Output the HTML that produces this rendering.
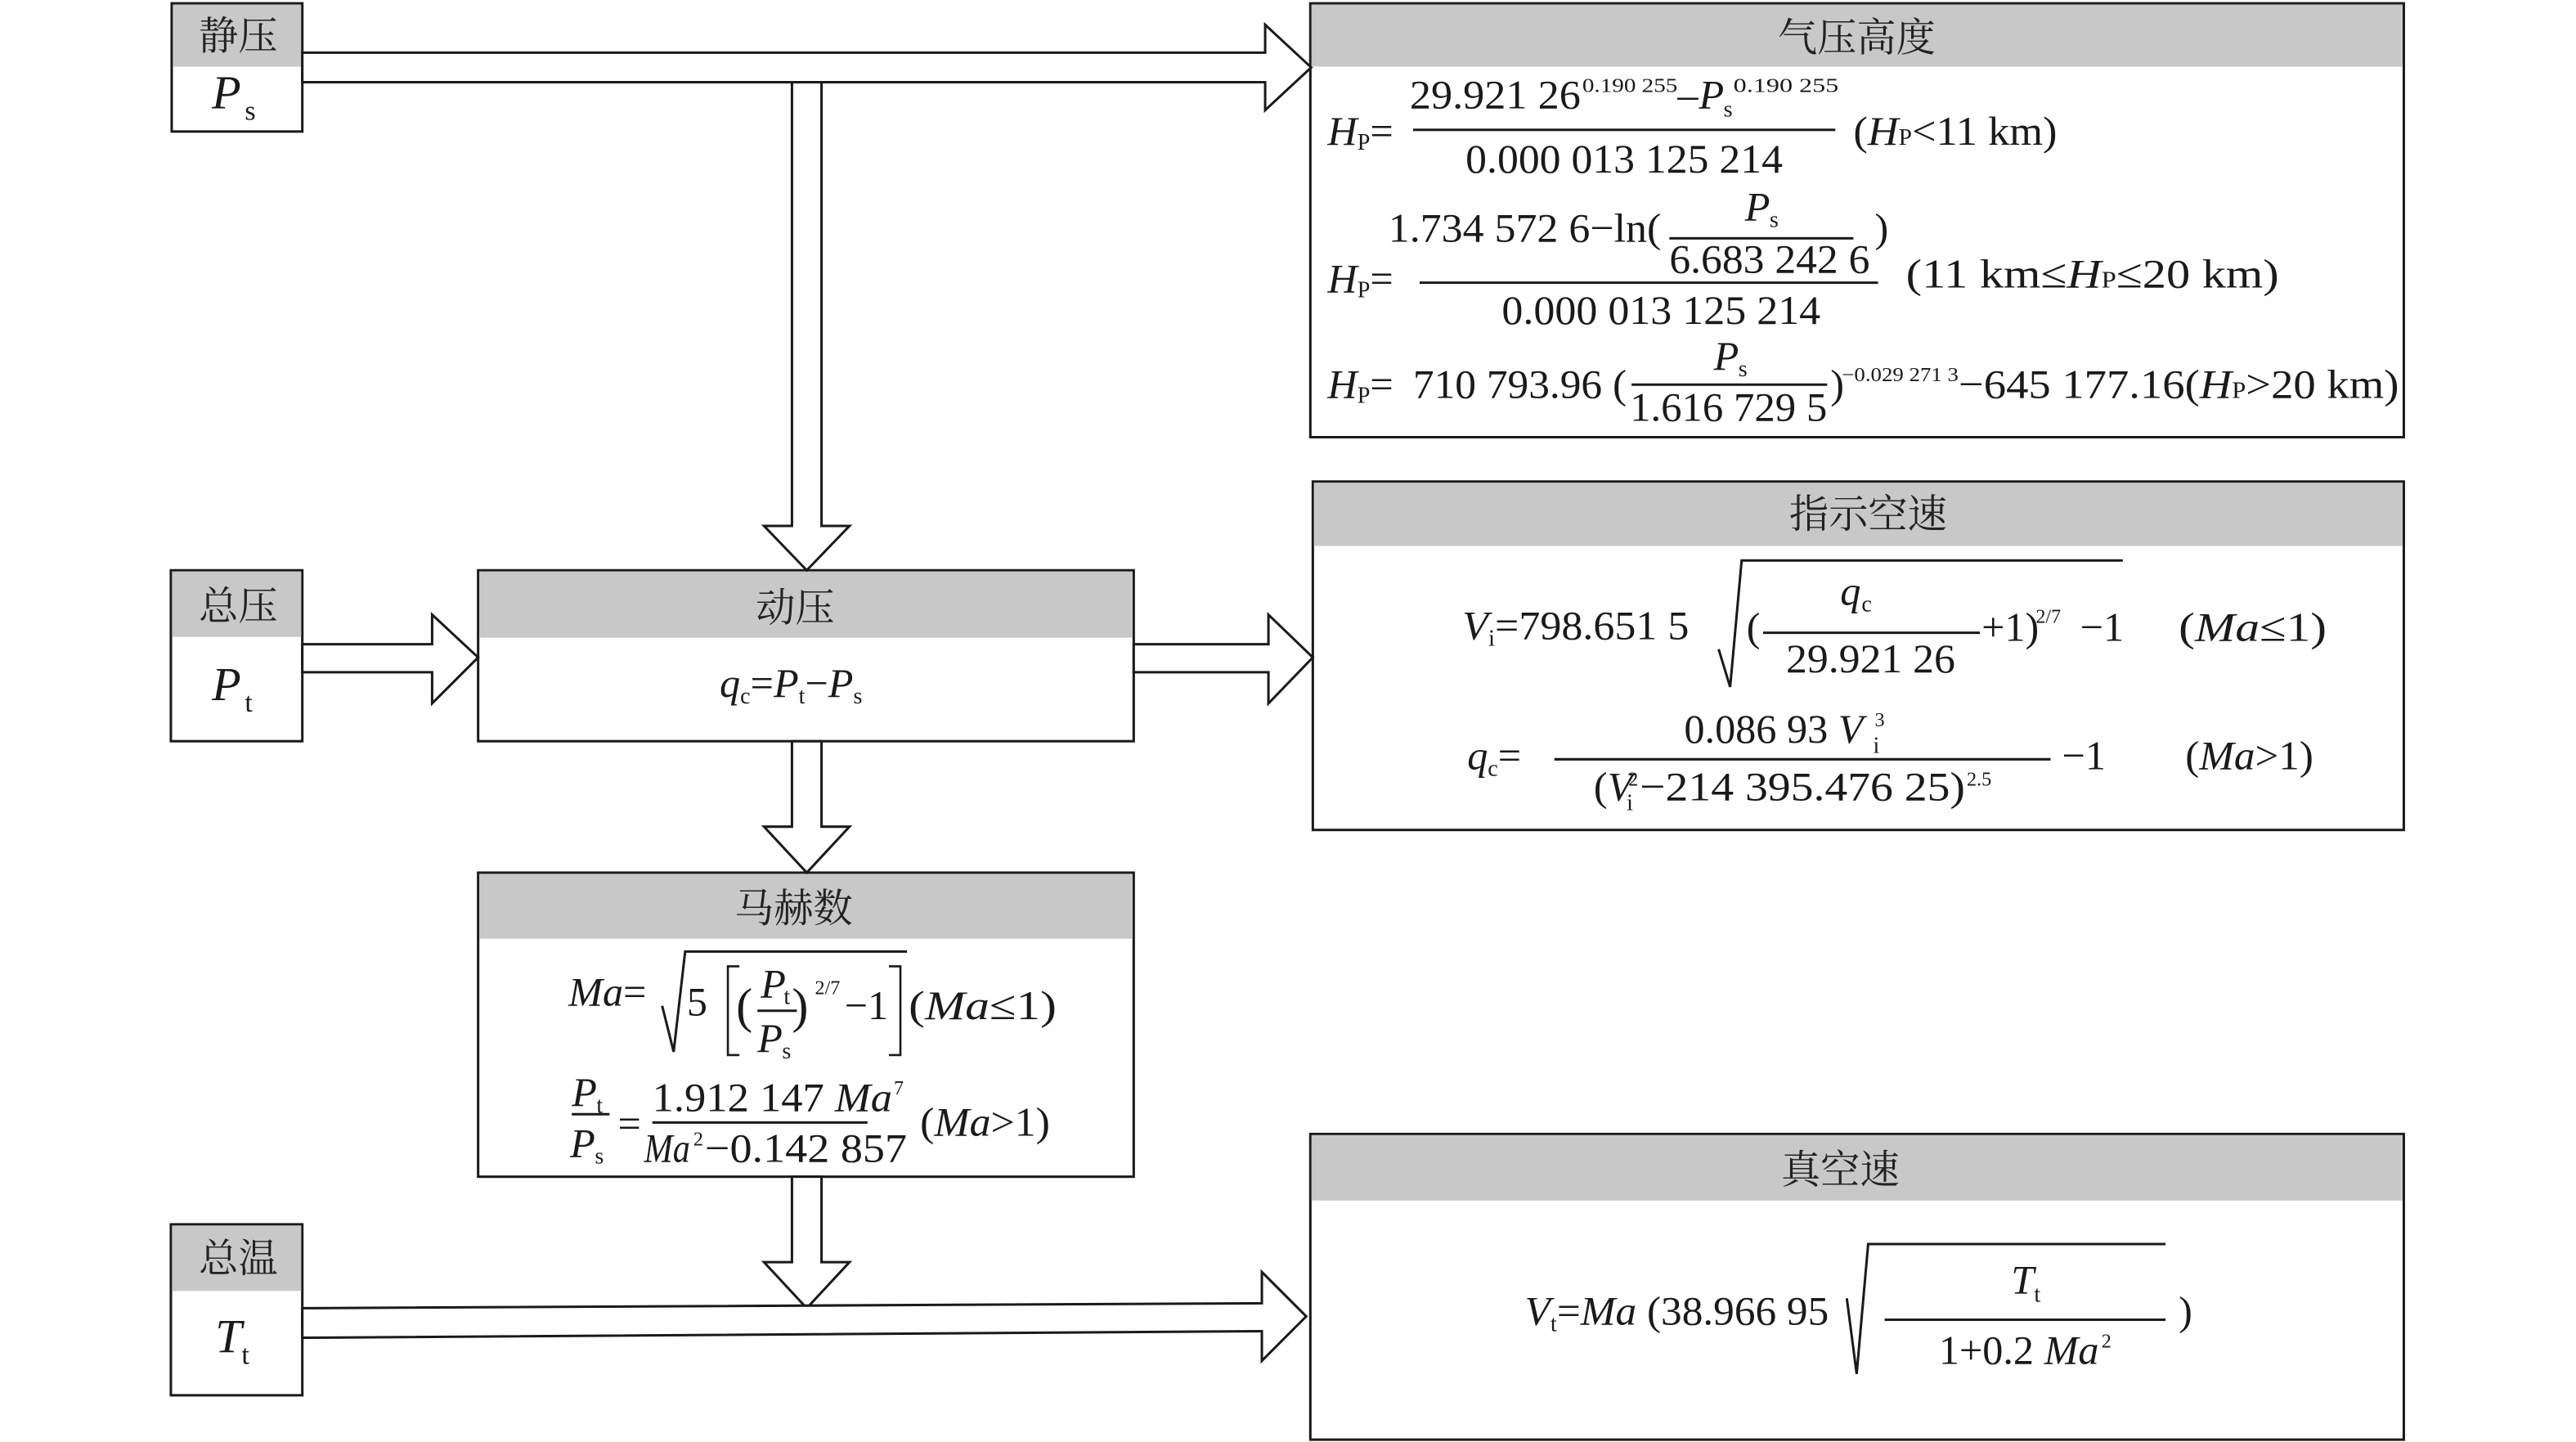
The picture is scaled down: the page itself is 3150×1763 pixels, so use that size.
<!DOCTYPE html>
<html><head><meta charset="utf-8"><style>
html,body{margin:0;padding:0;background:#fff;}
svg{display:block;}
text{font-family:"Liberation Serif","Noto Serif CJK SC",serif;fill:#1a1a1a;}
.h{font-family:"Liberation Serif","Noto Serif CJK SC","Noto Sans CJK SC",serif;font-size:24px;fill:#222;}
.m{font-size:25px;}
.i{font-style:italic;}
.s{font-size:14px;}
.ss{font-size:12px;}
</style></head><body>
<svg width="3150" height="1763" viewBox="0 0 1567.8 877.4" xmlns="http://www.w3.org/2000/svg">
<g stroke="#1a1a1a" stroke-width="1.5">
<rect x="104.5" y="2" width="79.5" height="78" fill="#fff"/>
<rect x="105.2" y="2.7" width="78" height="37.8" fill="#c8c8c8" stroke="none"/>
<rect x="104" y="347" width="80" height="104" fill="#fff"/>
<rect x="104.7" y="347.7" width="78.6" height="39.8" fill="#c8c8c8" stroke="none"/>
<rect x="104" y="745" width="80" height="104" fill="#fff"/>
<rect x="104.7" y="745.7" width="78.6" height="39.8" fill="#c8c8c8" stroke="none"/>
<rect x="291" y="347" width="399" height="104" fill="#fff"/>
<rect x="291.7" y="347.7" width="397.6" height="40.3" fill="#c8c8c8" stroke="none"/>
<rect x="291" y="531" width="399" height="185" fill="#fff"/>
<rect x="291.7" y="531.7" width="397.6" height="39.5" fill="#c8c8c8" stroke="none"/>
<rect x="797.5" y="2" width="665.5" height="264" fill="#fff"/>
<rect x="798.2" y="2.7" width="664" height="37.8" fill="#c8c8c8" stroke="none"/>
<rect x="799" y="293" width="664" height="212" fill="#fff"/>
<rect x="799.7" y="293.7" width="662.6" height="38.5" fill="#c8c8c8" stroke="none"/>
<rect x="797.5" y="690" width="665.5" height="186" fill="#fff"/>
<rect x="798.2" y="690.7" width="664" height="39.8" fill="#c8c8c8" stroke="none"/>
<polygon fill="#fff" points="184,32 770,32 770,15 798,41 770,67 770,50 184,50"/>
<polygon fill="#fff" points="482,50 500,50 500,320 517,320 491,347 465,320 482,320"/>
<polygon fill="#fff" points="184,392 263,392 263,374 291,400 263,428 263,409 184,409"/>
<polygon fill="#fff" points="690,392 772,392 772,374 799,400 772,428 772,409 690,409"/>
<polygon fill="#fff" points="482,451 500,451 500,503 517,503 491,531 465,503 482,503"/>
<polygon fill="#fff" points="482,716 500,716 500,768 517,768 491,796 465,768 482,768"/>
<polygon fill="#fff" points="184,796 768,793 768,774 795,801 768,828 768,810 184,814"/>
<line x1="860" y1="79" x2="1117" y2="79"/>
<line x1="1016" y1="145" x2="1128" y2="145"/>
<line x1="864" y1="172" x2="1143" y2="172"/>
<line x1="993" y1="234" x2="1112" y2="234"/>
<polyline fill="none" points="1046,395 1053,418 1060,341 1292,341"/>
<line x1="1073" y1="385" x2="1205" y2="385"/>
<line x1="946" y1="462" x2="1248" y2="462"/>
<polyline fill="none" points="403,612 410,640 417,579 552,579"/>
<polyline fill="none" stroke-width="1.3" points="450,588 443,588 443,642 450,642"/>
<polyline fill="none" stroke-width="1.3" points="541,588 548,588 548,642 541,642"/>
<line x1="461" y1="615" x2="485" y2="615"/>
<line x1="348" y1="678" x2="371" y2="678"/>
<line x1="397" y1="683" x2="528" y2="683"/>
<polyline fill="none" points="1124,790 1130,836 1137,757 1318,757"/>
<line x1="1147" y1="803" x2="1318" y2="803"/>
</g>
<text class="h" x="145" y="30" text-anchor="middle">静压</text>
<text class="h" x="145" y="377" text-anchor="middle">总压</text>
<text class="h" x="145" y="774" text-anchor="middle">总温</text>
<text class="h" x="484" y="378" text-anchor="middle">动压</text>
<text class="h" x="483" y="561" text-anchor="middle">马赫数</text>
<text class="h" x="1130" y="31" text-anchor="middle">气压高度</text>
<text class="h" x="1137" y="321" text-anchor="middle">指示空速</text>
<text class="h" x="1120" y="720" text-anchor="middle">真空速</text>
<text class="i" x="129" y="66" font-size="29">P</text><text x="149" y="73" font-size="17">s</text>
<text class="i" x="129" y="426" font-size="29">P</text><text x="149" y="433" font-size="17">t</text>
<text class="i" x="131" y="823" font-size="29">T</text><text x="147" y="830" font-size="17">t</text>
<text class="m" x="438" y="424"><tspan class="i">q</tspan><tspan class="s" dy="4">c</tspan><tspan dy="-4">=</tspan><tspan class="i">P</tspan><tspan class="s" dy="4">t</tspan><tspan dy="-4">−</tspan><tspan class="i">P</tspan><tspan class="s" dy="4">s</tspan></text>
<text class="m" x="808" y="88"><tspan class="i">H</tspan><tspan class="s" dy="3">P</tspan><tspan dy="-3">=</tspan></text>
<text class="m" x="858" y="66" textLength="104" lengthAdjust="spacingAndGlyphs">29.921 26</text>
<text class="ss" x="963" y="56" textLength="58" lengthAdjust="spacingAndGlyphs">0.190 255</text>
<text class="m" x="1021" y="66">–</text><text class="m i" x="1034" y="66">P</text><text class="s" x="1049" y="71">s</text>
<text class="ss" x="1055" y="56" textLength="64" lengthAdjust="spacingAndGlyphs">0.190 255</text>
<text class="m" x="892" y="105" textLength="193" lengthAdjust="spacingAndGlyphs">0.000 013 125 214</text>
<text class="m" x="1128" y="88" textLength="124" lengthAdjust="spacingAndGlyphs">(<tspan class="i">H</tspan><tspan class="s">P</tspan>&lt;11 km)</text>
<text class="m" x="845" y="147" textLength="166" lengthAdjust="spacingAndGlyphs">1.734 572 6−ln(</text>
<text class="m i" x="1062" y="134">P</text><text class="s" x="1077" y="138">s</text>
<text class="m" x="1016" y="166" textLength="122" lengthAdjust="spacingAndGlyphs">6.683 242 6</text>
<text class="m" x="1141" y="147">)</text>
<text class="m" x="808" y="178"><tspan class="i">H</tspan><tspan class="s" dy="3">P</tspan><tspan dy="-3">=</tspan></text>
<text class="m" x="914" y="197" textLength="194" lengthAdjust="spacingAndGlyphs">0.000 013 125 214</text>
<text class="m" x="1160" y="175" textLength="227" lengthAdjust="spacingAndGlyphs">(11 km≤<tspan class="i">H</tspan><tspan class="s">P</tspan>≤20 km)</text>
<text class="m" x="808" y="242"><tspan class="i">H</tspan><tspan class="s" dy="3">P</tspan><tspan dy="-3">=</tspan></text>
<text class="m" x="860" y="242" textLength="130" lengthAdjust="spacingAndGlyphs">710 793.96 (</text>
<text class="m i" x="1043" y="225">P</text><text class="s" x="1058" y="229">s</text>
<text class="m" x="992" y="256" textLength="120" lengthAdjust="spacingAndGlyphs">1.616 729 5</text>
<text class="m" x="1114" y="242">)</text>
<text class="ss" x="1121" y="232" textLength="71" lengthAdjust="spacingAndGlyphs">−0.029 271 3</text>
<text class="m" x="1192" y="242" textLength="268" lengthAdjust="spacingAndGlyphs">−645 177.16(<tspan class="i">H</tspan><tspan class="s">P</tspan>&gt;20 km)</text>
<text class="m" x="890" y="389" textLength="138" lengthAdjust="spacingAndGlyphs"><tspan class="i">V</tspan><tspan class="s" dy="4">i</tspan><tspan dy="-4">=798.651 5</tspan></text>
<text class="m" x="1063" y="390">(</text>
<text class="m i" x="1120" y="368">q</text><text class="s" x="1133" y="372">c</text>
<text class="m" x="1087" y="409" textLength="103" lengthAdjust="spacingAndGlyphs">29.921 26</text>
<text class="m" x="1206" y="390">+1)</text><text class="ss" x="1239" y="379">2/7</text>
<text class="m" x="1266" y="390">−1</text>
<text class="m" x="1326" y="390" textLength="90" lengthAdjust="spacingAndGlyphs">(<tspan class="i">Ma</tspan>≤1)</text>
<text class="m" x="893" y="468"><tspan class="i">q</tspan><tspan class="s" dy="4">c</tspan><tspan dy="-4">=</tspan></text>
<text class="m" x="1025" y="452">0.086 93 <tspan class="i">V</tspan></text><text class="s" x="1140" y="458">i</text><text class="ss" x="1141" y="442">3</text>
<text class="m" x="970" y="487">(<tspan class="i">V</tspan></text><text class="s" x="990" y="493">i</text><text class="ss" x="991" y="478">2</text>
<text class="m" x="998" y="487" textLength="198" lengthAdjust="spacingAndGlyphs">−214 395.476 25)</text><text class="ss" x="1197" y="478">2.5</text>
<text class="m" x="1255" y="468">−1</text>
<text class="m" x="1330" y="468" textLength="78" lengthAdjust="spacingAndGlyphs">(<tspan class="i">Ma</tspan>&gt;1)</text>
<text class="m" x="346" y="612"><tspan class="i">Ma</tspan>=</text>
<text class="m" x="418" y="618">5</text>
<text x="448" y="622" font-size="30">(</text>
<text class="m i" x="463" y="607">P</text><text class="s" x="477" y="611">t</text>
<text class="m i" x="461" y="640">P</text><text class="s" x="476" y="644">s</text>
<text x="482" y="622" font-size="30">)</text>
<text class="ss" x="496" y="605">2/7</text>
<text class="m" x="514" y="620">−1</text>
<text class="m" x="553" y="620" textLength="90" lengthAdjust="spacingAndGlyphs">(<tspan class="i">Ma</tspan>≤1)</text>
<text class="m i" x="348" y="673">P</text><text class="s" x="363" y="677">t</text>
<text class="m i" x="347" y="704">P</text><text class="s" x="362" y="708">s</text>
<text class="m" x="376" y="692">=</text>
<text class="m" x="397" y="676" textLength="146" lengthAdjust="spacingAndGlyphs">1.912 147 <tspan class="i">Ma</tspan></text><text class="ss" x="544" y="666">7</text>
<text class="m i" x="392" y="707" textLength="28" lengthAdjust="spacingAndGlyphs">Ma</text><text class="ss" x="422" y="697">2</text>
<text class="m" x="429" y="707" textLength="123" lengthAdjust="spacingAndGlyphs">−0.142 857</text>
<text class="m" x="560" y="691" textLength="79" lengthAdjust="spacingAndGlyphs">(<tspan class="i">Ma</tspan>&gt;1)</text>
<text class="m" x="928" y="806" textLength="185" lengthAdjust="spacingAndGlyphs"><tspan class="i">V</tspan><tspan class="s" dy="4">t</tspan><tspan dy="-4">=</tspan><tspan class="i">Ma</tspan> (38.966 95</text>
<text class="m i" x="1224" y="787">T</text><text class="s" x="1238" y="792">t</text>
<text class="m" x="1180" y="830">1+0.2 <tspan class="i">Ma</tspan></text><text class="ss" x="1279" y="820">2</text>
<text class="m" x="1326" y="806">)</text>
</svg>
</body></html>
